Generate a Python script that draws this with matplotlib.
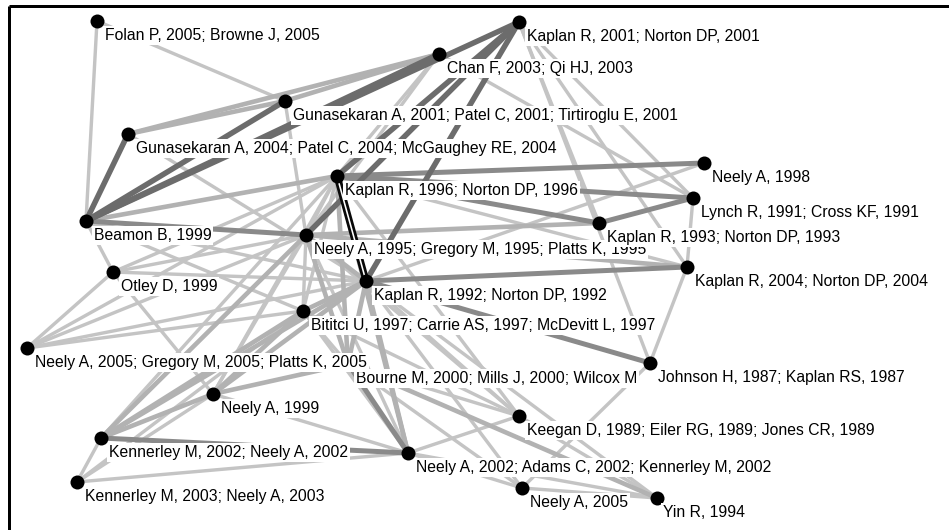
import matplotlib
matplotlib.use("Agg")
import matplotlib.pyplot as plt

plt.rcParams['font.family'] = ['Liberation Sans', 'DejaVu Sans']

# ---------------- data ----------------
node_keys = ["FOL", "K01", "CHAN", "G01", "G04", "K96", "N98", "LYN", "BEA", "N95",
             "K93", "OTL", "K92", "K04", "BIT", "N05G", "JOH", "BOU", "N99", "KEE",
             "KN02", "N02", "KN03", "N05", "YIN"]
node_labels = [
    "Folan P, 2005; Browne J, 2005",
    "Kaplan R, 2001; Norton DP, 2001",
    "Chan F, 2003; Qi HJ, 2003",
    "Gunasekaran A, 2001; Patel C, 2001; Tirtiroglu E, 2001",
    "Gunasekaran A, 2004; Patel C, 2004; McGaughey RE, 2004",
    "Kaplan R, 1996; Norton DP, 1996",
    "Neely A, 1998",
    "Lynch R, 1991; Cross KF, 1991",
    "Beamon B, 1999",
    "Neely A, 1995; Gregory M, 1995; Platts K, 1995",
    "Kaplan R, 1993; Norton DP, 1993",
    "Otley D, 1999",
    "Kaplan R, 1992; Norton DP, 1992",
    "Kaplan R, 2004; Norton DP, 2004",
    "Bititci U, 1997; Carrie AS, 1997; McDevitt L, 1997",
    "Neely A, 2005; Gregory M, 2005; Platts K, 2005",
    "Johnson H, 1987; Kaplan RS, 1987",
    "Bourne M, 2000; Mills J, 2000; Wilcox M",
    "Neely A, 1999",
    "Keegan D, 1989; Eiler RG, 1989; Jones CR, 1989",
    "Kennerley M, 2002; Neely A, 2002",
    "Neely A, 2002; Adams C, 2002; Kennerley M, 2002",
    "Kennerley M, 2003; Neely A, 2003",
    "Neely A, 2005",
    "Yin R, 1994",
]
# layout coordinates of the nodes
node_x = [97, 519, 439, 285, 128, 337, 704, 693, 86, 306,
          599, 113, 366, 687, 303, 27, 650, 348, 213, 519,
          101, 408, 77, 522, 657]
node_y = [21, 22, 54, 101, 134, 176, 163, 198, 221, 235,
          223, 272, 281, 267, 311, 348, 363, 364, 394, 416,
          438, 453, 482, 488, 498]

edge_src = ["FOL", "FOL", "CHAN", "CHAN", "CHAN", "CHAN", "CHAN", "CHAN",
            "K01", "K01", "K01", "K01", "K01", "K01", "K01", "K01",
            "G01", "G01", "G01", "G04", "G04",
            "K96", "K96", "K96", "K96", "K96", "K96", "K96", "K96", "K96", "K96",
            "K96", "K96", "K96", "K96", "K96",
            "N98", "LYN", "LYN", "K93",
            "BEA", "BEA", "BEA", "BEA",
            "N95", "N95", "N95", "N95", "N95", "N95", "N95", "N95", "N95", "N95",
            "OTL", "OTL", "OTL",
            "K92", "K92", "K92", "K92", "K92", "K92", "K92", "K92", "K92", "K92", "K92",
            "K04",
            "BIT", "BIT", "BIT", "BIT", "BIT", "BIT", "BIT",
            "N99", "N99", "N99", "N99",
            "KEE", "KEE", "KN02", "KN02",
            "N02", "N02", "N02", "N02",
            "N05", "N05", "N05", "YIN", "YIN"]
edge_dst = ["BEA", "G01", "G01", "G04", "BEA", "K96", "N95", "LYN",
            "BEA", "K96", "K92", "N95", "LYN", "K93", "K04", "JOH",
            "BEA", "G04", "N95", "BEA", "K92",
            "K92", "N98", "LYN", "K93", "BEA", "N95", "BIT", "OTL", "N05G", "KN02",
            "N99", "BOU", "N02", "KEE", "K04",
            "K92", "K93", "K04", "N95",
            "N95", "OTL", "K92", "BIT",
            "K92", "BIT", "OTL", "N05G", "KN02", "N99", "BOU", "N02", "KEE", "K04",
            "K92", "N05G", "N99",
            "K04", "BIT", "N05G", "N99", "KN02", "BOU", "N02", "KEE", "N05", "YIN", "JOH",
            "JOH",
            "N05G", "KN02", "N99", "KN03", "BOU", "N02", "KEE",
            "BOU", "KN02", "N02", "KN03",
            "N02", "BOU", "KN03", "N02",
            "KN03", "BOU", "N05", "YIN",
            "YIN", "JOH", "BOU", "BOU", "KEE"]
edge_weight = [1, 1, 2, 2, 4, 1, 1, 1,
               4, 4, 4, 4, 1, 1, 1, 1,
               4, 2, 1, 4, 1,
               5, 3, 3, 3, 2, 1, 1, 1, 1, 1,
               1, 2, 2, 1, 1,
               1, 3, 1, 2,
               3, 1, 1, 1,
               2, 1, 1, 1, 2, 1, 2, 1, 1, 2,
               1, 1, 1,
               3, 2, 1, 2, 2, 2, 2, 1, 1, 1, 3,
               1,
               1, 2, 2, 1, 1, 1, 1,
               2, 2, 1, 1,
               1, 1, 1, 3,
               1, 3, 1, 1,
               1, 1, 1, 2, 1]

# ---------------- styling ----------------
W, H = 949, 530
DPI = 100
PX = 72.0 / DPI  # points per pixel

weight_color = {1: "#c4c4c4", 2: "#b2b2b2", 3: "#8a8a8a", 4: "#6c6c6c", 5: "#080808"}
weight_width = {1: 3.4, 2: 4.6, 3: 5.0, 4: 5.5, 5: 7.0}

label_offset = {"YIN": (6, 19)}
label_z = {"K93": 12, "JOH": 12, "N05G": 12}

fig = plt.figure(figsize=(W / DPI, H / DPI), dpi=DPI)
ax = fig.add_axes([0, 0, 1, 1])
ax.set_xlim(0, W)
ax.set_ylim(H, 0)
ax.axis("off")

idx = {k: i for i, k in enumerate(node_keys)}

order = sorted(range(len(edge_src)), key=lambda i: edge_weight[i])
for i in order:
    a, b, w = idx[edge_src[i]], idx[edge_dst[i]], edge_weight[i]
    xs = [node_x[a], node_x[b]]
    ys = [node_y[a], node_y[b]]
    ax.plot(xs, ys, color=weight_color[w], lw=weight_width[w] * PX,
            solid_capstyle="butt", zorder=2 + w * 0.1)
    if w == 5:
        ax.plot(xs, ys, color="white", lw=1.6 * PX, solid_capstyle="butt", zorder=3)

ax.scatter(node_x, node_y, s=(14 * PX) ** 2, color="black", zorder=5, linewidths=0)

for k, lab, x, y in zip(node_keys, node_labels, node_x, node_y):
    dx, dy = label_offset.get(k, (8, 19))
    ax.text(x + dx, y + dy, lab, fontsize=11.3, color="black", ha="left", va="baseline",
            zorder=label_z.get(k, 10),
            bbox=dict(facecolor="white", edgecolor="none", pad=1.2))

# frame (left and top rules)
ax.plot([9, 9], [6, H], color="black", lw=3 * PX, solid_capstyle="butt", zorder=20)
ax.plot([9, W], [6, 6], color="black", lw=3 * PX, solid_capstyle="butt", zorder=20)

fig.savefig("out.png", dpi=DPI, facecolor="white")
